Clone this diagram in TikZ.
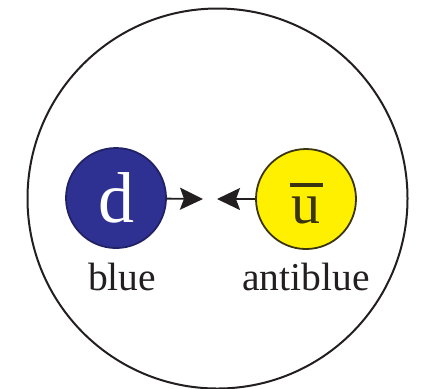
\documentclass[tikz,border=0pt]{standalone}
\usepackage{fontspec}
\setmainfont{Liberation Serif}
\usetikzlibrary{arrows.meta,positioning}
\definecolor{quarkb}{HTML}{2F3192}
\definecolor{quarky}{HTML}{FFF000}
\definecolor{inkc}{HTML}{231F20}
\definecolor{olivec}{HTML}{3A3510}
\newcommand{\barq}[1]{\rlap{\kern-1pt\rule[18pt]{16.5pt}{1.8pt}}#1}
\tikzset{
  ar/.style={-{Stealth[length=11.5pt,width=11pt,inset=2pt]},line width=0.9pt,inkc},
  quark/.style={circle,line width=0.9pt,minimum size=50pt,inner sep=0pt},
  lbl/.style={font=\fontsize{19.75}{22}\selectfont,text=inkc,anchor=base,inner sep=0pt}
}
\begin{document}
\begin{tikzpicture}[x=0.5pt,y=-0.5pt]
\useasboundingbox (0,0) rectangle (421,388);
% hadron
\draw[inkc,line width=1pt] (217.5,198.5) circle [radius=95pt];
% quarks
\node[quark,draw=quarkb!70!black,fill=quarkb,text=white,font=\fontsize{36}{38}\selectfont] (dq) at (116,198) {d};
\node[quark,draw=olivec,fill=quarky,text=olivec,font=\fontsize{29}{32}\selectfont,text height=24pt,text depth=0pt] (ubq) at (306,199) {\barq{u}};
\coordinate (dtip) at (203,199);
\coordinate (utip) at (217,199);
\draw[ar] (dq) -- (dtip);
\draw[ar] (ubq) -- (utip);
% colour labels
\node[lbl] (dlab) at (122,290) {blue};
\node[lbl] (ublab) at (306,290) {antiblue};
\end{tikzpicture}
\end{document}
